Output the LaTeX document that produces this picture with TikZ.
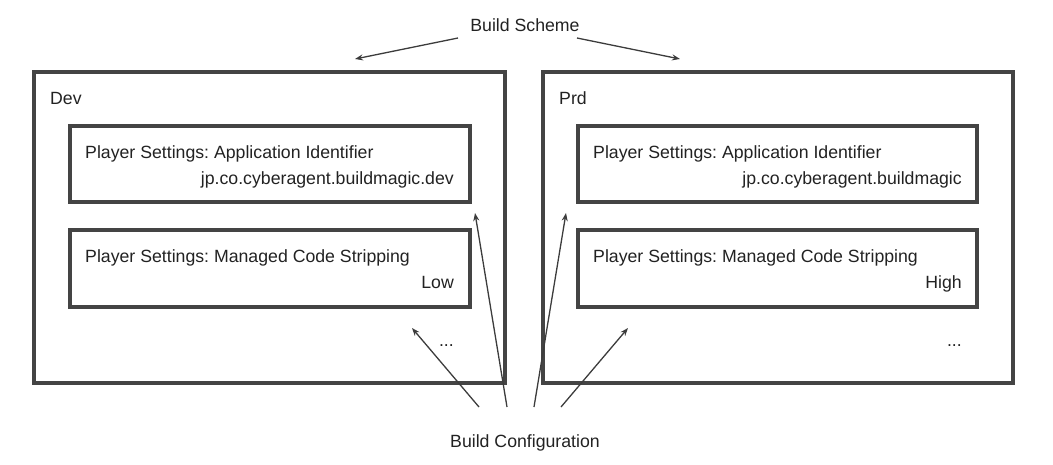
\documentclass[tikz,border=0pt]{standalone}
\usepackage{fontspec}
\setmainfont{Liberation Sans}
\usetikzlibrary{arrows.meta}
\definecolor{boxc}{HTML}{444444}
\definecolor{txt}{HTML}{222222}
\definecolor{arr}{HTML}{3C3C3C}
\frenchspacing
\begin{document}
\begin{tikzpicture}[x=1pt,y=-1pt,
  outerbox/.style={draw=boxc,line width=4pt,anchor=north west,inner sep=0,outer sep=0},
  innerbox/.style={draw=boxc,line width=3.2pt,anchor=north west,inner sep=0,outer sep=0},
  lbl/.style={inner sep=0,text=txt,font=\fontsize{17.7}{20}\selectfont},
  conn/.style={draw=arr,line width=1.3pt,-{Stealth[length=8pt,width=6pt]}}]
\useasboundingbox (0,0) rectangle (1053,464);
% outer boxes
\node[outerbox,minimum width=471pt,minimum height=311pt] (dev) at (34,72) {};
\node[outerbox,minimum width=470pt,minimum height=311pt] (prd) at (543,72) {};
% inner boxes
\node[innerbox,minimum width=400pt,minimum height=76pt] (devA) at (70,126) {};
\node[innerbox,minimum width=400pt,minimum height=77pt] (devB) at (70,230) {};
\node[innerbox,minimum width=399pt,minimum height=76pt] (prdA) at (578,126) {};
\node[innerbox,minimum width=399pt,minimum height=77pt] (prdB) at (578,230) {};
% labels
\node[lbl,anchor=base west] (devT) at (50,104) {Dev};
\node[lbl,anchor=base west] (prdT) at (559,104) {Prd};
\node[lbl,anchor=base west] (devA1) at (85,158) {Player Settings: Application Identifier};
\node[lbl,anchor=base east] (devA2) at (454,184) {jp.co.cyberagent.buildmagic.dev};
\node[lbl,anchor=base west] (devB1) at (85,262) {Player Settings: Managed Code Stripping};
\node[lbl,anchor=base east] (devB2) at (454,288) {Low};
\node[lbl,anchor=base east] (devD) at (454,346) {...};
\node[lbl,anchor=base west] (prdA1) at (593,158) {Player Settings: Application Identifier};
\node[lbl,anchor=base east] (prdA2) at (962,184) {jp.co.cyberagent.buildmagic};
\node[lbl,anchor=base west] (prdB1) at (593,262) {Player Settings: Managed Code Stripping};
\node[lbl,anchor=base east] (prdB2) at (962,288) {High};
\node[lbl,anchor=base east] (prdD) at (962,346) {...};
\node[lbl,anchor=base] (scheme) at (525,31) {Build Scheme};
\node[lbl,anchor=base] (config) at (525,447) {Build Configuration};
% connector end points
\coordinate (s1) at (458,38);
\coordinate (s2) at (577,38);
\coordinate (t1) at (355,59);
\coordinate (t2) at (680,59);
\coordinate (c1) at (479,407);
\coordinate (c2) at (507,407);
\coordinate (c3) at (534,407);
\coordinate (c4) at (561,407);
\coordinate (e1) at (412,328);
\coordinate (e2) at (475,213);
\coordinate (e3) at (566,213);
\coordinate (e4) at (628,328);
\draw[conn] (s1) -- (t1);
\draw[conn] (s2) -- (t2);
\draw[conn] (c1) -- (e1);
\draw[conn] (c2) -- (e2);
\draw[conn] (c3) -- (e3);
\draw[conn] (c4) -- (e4);
\end{tikzpicture}
\end{document}
